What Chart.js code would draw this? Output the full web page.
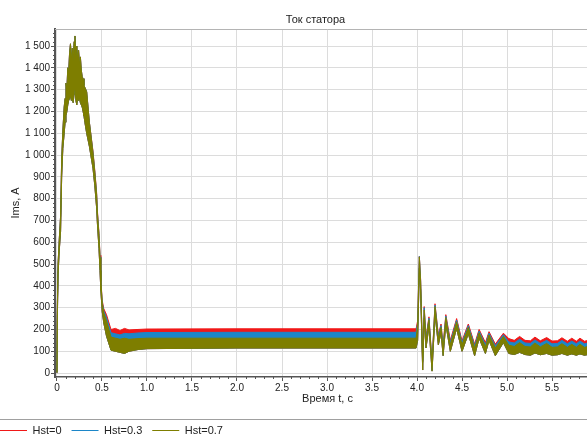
<!DOCTYPE html>
<html>
<head>
<meta charset="utf-8">
<script src="https://cdn.jsdelivr.net/npm/chart.js@4.4.1/dist/chart.umd.min.js"></script>
<style>
  html, body { margin: 0; padding: 0; width: 587px; height: 434px; overflow: hidden; background: #fff; }
  #wrap { position: absolute; left: -10px; top: 0; }
</style>
</head>
<body>
<div id="wrap"><canvas id="chart" width="610" height="446"></canvas></div>
<script>
// time, s
const time = [0, 0.004, 0.012, 0.025, 0.04, 0.052, 0.065, 0.08,
  0.09, 0.1, 0.11, 0.12, 0.13, 0.14, 0.15, 0.16, 0.17, 0.18, 0.19, 0.2, 0.21, 0.22, 0.23, 0.24, 0.25, 0.26, 0.27, 0.28, 0.29, 0.3, 0.31,
  0.33, 0.36, 0.4, 0.42, 0.44, 0.45, 0.467, 0.478, 0.487, 0.503, 0.52, 0.55, 0.6, 0.65, 0.7, 0.75, 0.8, 0.9, 1.0, 2.0, 3.0, 3.99,
  4.007, 4.026, 4.04, 4.063, 4.08, 4.1, 4.133, 4.167, 4.2, 4.237, 4.267, 4.29, 4.32, 4.37, 4.44, 4.5, 4.57, 4.64, 4.69, 4.76, 4.8, 4.87, 4.96,
  5.02, 5.08, 5.14, 5.2, 5.26, 5.31, 5.37, 5.44, 5.5, 5.56, 5.61, 5.67, 5.72, 5.77, 5.81, 5.86, 5.9];

// lower edge of the oscillation band (the lower parts of the three curves overlap)
const bandLow = [0, 250, 450, 560, 650, 900, 1030, 1100,
  1150, 1180, 1200, 1230, 1250, 1260, 1270, 1250, 1260, 1240, 1280, 1300, 1250, 1230, 1260, 1250, 1260, 1240, 1230, 1220, 1200, 1180, 1150,
  1100, 1040, 940, 860, 760, 680, 570, 470, 380, 280, 230, 170, 105, 100, 95, 90, 100, 108, 112, 115, 115, 115,
  150, 480, 380, 14, 250, 115, 215, 9, 270, 130, 185, 80, 225, 100, 205, 100, 180, 80, 160, 90, 150, 80, 140,
  90, 85, 95, 85, 82, 92, 84, 90, 82, 84, 90, 82, 88, 82, 88, 82, 85];

// upper edge, Hst=0.7
const highHst07 = [5, 300, 500, 610, 720, 980, 1110, 1220,
  1260, 1330, 1300, 1400, 1380, 1470, 1510, 1440, 1490, 1430, 1520, 1546, 1450, 1500, 1440, 1480, 1420, 1450, 1390, 1360, 1350, 1320, 1310,
  1290, 1150, 1010, 920, 820, 730, 630, 530, 420, 320, 275, 240, 165, 160, 155, 160, 155, 158, 160, 160, 160, 160,
  220, 533, 420, 50, 290, 150, 245, 40, 305, 160, 210, 110, 255, 130, 235, 130, 210, 115, 185, 120, 175, 115, 168,
  128, 122, 140, 122, 120, 138, 120, 136, 118, 120, 135, 118, 132, 118, 132, 118, 122];

// upper edge, Hst=0.3
const highHst03 = [5, 300, 500, 610, 720, 980, 1110, 1220,
  1260, 1330, 1300, 1400, 1380, 1470, 1510, 1440, 1490, 1430, 1520, 1546, 1450, 1500, 1440, 1480, 1420, 1450, 1390, 1360, 1350, 1320, 1310,
  1290, 1150, 1012, 922, 822, 732, 632, 532, 422, 325, 285, 255, 185, 180, 175, 182, 180, 184, 186, 187, 187, 187,
  230, 535, 425, 55, 300, 158, 252, 45, 312, 168, 218, 120, 262, 140, 243, 140, 218, 125, 193, 130, 183, 125, 176,
  143, 138, 155, 138, 136, 152, 136, 150, 134, 136, 150, 134, 147, 134, 147, 134, 138];

// upper edge, Hst=0
const highHst0 = [5, 300, 500, 610, 720, 980, 1110, 1220,
  1260, 1330, 1300, 1400, 1380, 1470, 1510, 1440, 1490, 1430, 1520, 1546, 1450, 1500, 1440, 1480, 1420, 1450, 1390, 1360, 1350, 1320, 1310,
  1290, 1150, 1018, 930, 830, 740, 640, 540, 428, 332, 295, 268, 200, 205, 195, 205, 198, 200, 202, 203, 203, 203,
  240, 535, 430, 60, 305, 165, 258, 50, 318, 175, 225, 128, 268, 150, 250, 148, 225, 133, 200, 140, 190, 133, 183,
  158, 150, 168, 150, 148, 165, 148, 163, 147, 148, 162, 146, 160, 146, 160, 146, 150];

const seriesNames = ['Hst=0', 'Hst=0.3', 'Hst=0.7'];
const seriesColors = ['#f01818', '#1c86c8', '#7e7e00'];
const seriesHigh = [highHst0, highHst03, highHst07];

const xTicks = [0, 0.5, 1, 1.5, 2, 2.5, 3, 3.5, 4, 4.5, 5, 5.5];
const yTicks = [0, 100, 200, 300, 400, 500, 600, 700, 800, 900, 1000, 1100, 1200, 1300, 1400, 1500];

const toPoints = arr => arr.map((v, i) => ({ x: time[i], y: v }));

const datasets = [];
seriesNames.forEach((name, i) => {
  const order = 2 - i;
  datasets.push({
    label: '',
    data: toPoints(bandLow),
    borderColor: seriesColors[i],
    borderWidth: 1,
    pointRadius: 0,
    fill: false,
    order: order
  });
  datasets.push({
    label: name,
    data: toPoints(seriesHigh[i]),
    borderColor: seriesColors[i],
    backgroundColor: seriesColors[i],
    borderWidth: 1,
    pointRadius: 0,
    fill: '-1',
    order: order
  });
});

const decor = {
  id: 'decor',
  afterLayout(chart) {
    const a = chart.chartArea;
    if (chart.titleBlock) {
      chart.titleBlock.left = a.left;
      chart.titleBlock.right = a.right - 24;
    }
  },
  afterDraw(chart) {
    const ctx = chart.ctx;
    const a = chart.chartArea;
    const xs = chart.scales.x, ys = chart.scales.y;
    ctx.save();
    // top frame line
    ctx.strokeStyle = '#b4b4b4';
    ctx.lineWidth = 1;
    ctx.beginPath();
    ctx.moveTo(a.left, a.top + 0.5);
    ctx.lineTo(a.right, a.top + 0.5);
    ctx.stroke();
    // minor ticks
    ctx.strokeStyle = '#555';
    ctx.beginPath();
    for (let k = 0; k <= 60; k++) {
      if (k % 5 === 0) continue;
      const px = Math.round(xs.getPixelForValue(k / 10)) + 0.5;
      ctx.moveTo(px, a.bottom);
      ctx.lineTo(px, a.bottom + 2);
    }
    for (let k = 0; k <= 78; k++) {
      if (k % 5 === 0) continue;
      const py = Math.round(ys.getPixelForValue(k * 20)) + 0.5;
      ctx.moveTo(a.left - 2, py);
      ctx.lineTo(a.left, py);
    }
    ctx.stroke();
    // legend separator
    ctx.strokeStyle = '#a0a0a0';
    ctx.beginPath();
    ctx.moveTo(0, chart.legend.top + 4.5);
    ctx.lineTo(chart.width, chart.legend.top + 4.5);
    ctx.stroke();
    ctx.restore();
  }
};

Chart.defaults.font.family = '"Liberation Sans", Arial, sans-serif';
Chart.defaults.color = '#222';

new Chart(document.getElementById('chart').getContext('2d'), {
  type: 'line',
  data: { datasets: datasets },
  plugins: [decor],
  options: {
    responsive: false,
    animation: false,
    layout: { padding: 0 },
    elements: { line: { tension: 0 } },
    scales: {
      x: {
        type: 'linear',
        min: -0.022,
        max: 6.033,
        afterBuildTicks: axis => { axis.ticks = xTicks.map(v => ({ value: v })); },
        afterFit: axis => { axis.height = 38; },
        grid: { color: '#dcdcdc', tickColor: '#555', tickLength: 4 },
        border: { color: '#555', width: 1.5 },
        ticks: { font: { size: 10 }, padding: 1, maxRotation: 0, autoSkip: false, color: '#222' },
        title: { display: true, text: 'Время t, с', font: { size: 11 }, color: '#222', padding: { top: 0, bottom: 9 } }
      },
      y: {
        min: -18,
        max: 1578,
        afterBuildTicks: axis => { axis.ticks = yTicks.map(v => ({ value: v })); },
        afterFit: axis => { axis.width = 65; },
        grid: { color: '#dcdcdc', tickColor: '#555', tickLength: 4 },
        border: { color: '#555', width: 2 },
        ticks: {
          font: { size: 10 }, padding: 1, autoSkip: false, color: '#222',
          callback: v => String(v).replace(/\B(?=(\d{3})+(?!\d))/g, ' ')
        },
        title: { display: true, text: 'Ims, A', font: { size: 11 }, color: '#222', padding: { top: 19, bottom: 0 } }
      }
    },
    plugins: {
      title: { display: true, text: 'Ток статора', font: { size: 11, weight: 'normal' }, color: '#222', padding: { top: 13, bottom: 2.8 } },
      legend: {
        position: 'bottom',
        align: 'start',
        labels: {
          usePointStyle: true,
          pointStyle: 'line',
          pointStyleWidth: 27,
          padding: 10,
          font: { size: 11 },
          color: '#222',
          filter: item => item.text !== '',
          sort: (a, b) => a.datasetIndex - b.datasetIndex
        }
      },
      tooltip: { enabled: false }
    }
  }
});
</script>
</body>
</html>
